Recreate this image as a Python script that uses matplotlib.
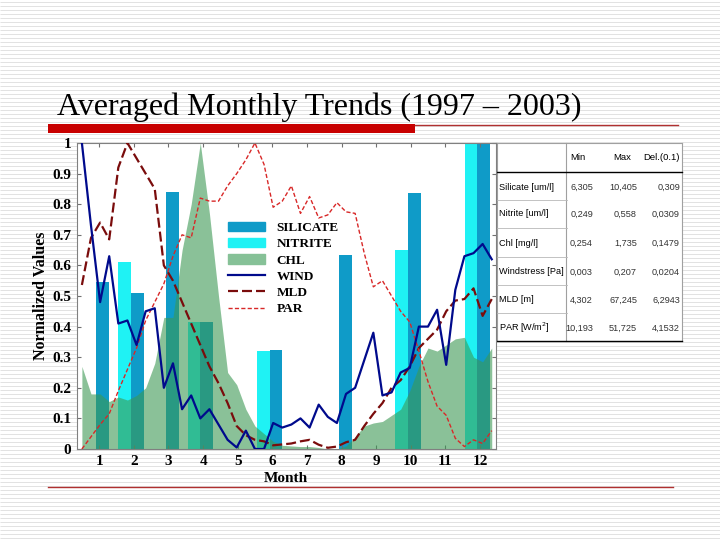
"""
Averaged Monthly Trends (1997 - 2003) - normalized values
"""

import numpy as np
import matplotlib
matplotlib.use('Agg')
import matplotlib.pyplot as plt
from matplotlib.patches import Patch, Rectangle
from matplotlib.lines import Line2D

# 1. data (8-day composites, day of year 1..361)
doy = np.arange(1, 366, 8)
month_pos = 0.5 + (doy - 1) * 12 / 365

wind = [1.00, 0.73, 0.48, 0.63, 0.41, 0.42, 0.34, 0.45, 0.46, 0.20,
        0.28, 0.13, 0.175, 0.10, 0.13, 0.08, 0.03, 0.005, 0.06, 0.0,
        0.0, 0.085, 0.07, 0.08, 0.10, 0.07, 0.145, 0.105, 0.085, 0.18,
        0.20, 0.29, 0.38, 0.175, 0.185, 0.25, 0.265, 0.40, 0.40, 0.455,
        0.275, 0.52, 0.63, 0.64, 0.67, 0.62]
mld = [0.536, 0.69, 0.74, 0.685, 0.92, 1.0, 0.95, 0.90, 0.85, 0.60,
       0.55, 0.48, 0.41, 0.34, 0.27, 0.215, 0.15, 0.075, 0.045, 0.03,
       0.025, 0.012, 0.015, 0.018, 0.025, 0.03, 0.014, 0.004, 0.008, 0.022,
       0.03, 0.075, 0.115, 0.15, 0.20, 0.225, 0.27, 0.33, 0.36, 0.39,
       0.45, 0.485, 0.49, 0.525, 0.435, 0.49]
par = [0.0, 0.04, 0.08, 0.115, 0.19, 0.26, 0.33, 0.42, 0.48, 0.54,
       0.63, 0.70, 0.69, 0.82, 0.81, 0.81, 0.86, 0.90, 0.945, 1.0,
       0.93, 0.79, 0.81, 0.86, 0.77, 0.825, 0.755, 0.765, 0.805, 0.775,
       0.77, 0.64, 0.53, 0.55, 0.50, 0.45, 0.415, 0.32, 0.22, 0.14,
       0.11, 0.035, 0.008, 0.03, 0.018, 0.06]
chl = [0.27, 0.18, 0.18, 0.155, 0.17, 0.16, 0.175, 0.20, 0.28, 0.43,
       0.43, 0.65, 0.80, 1.0, 0.77, 0.50, 0.25, 0.21, 0.13, 0.075,
       0.05, 0.025, 0.012, 0.01, 0.008, 0.008, 0.005, 0.0, 0.0, 0.01,
       0.04, 0.075, 0.085, 0.09, 0.11, 0.13, 0.19, 0.27, 0.33, 0.32,
       0.34, 0.36, 0.365, 0.30, 0.285, 0.33]

months = np.arange(1, 13)
silicate = [0.545, 0.51, 0.84, 0.415, np.nan, 0.325, np.nan, 0.635, np.nan, 0.835, np.nan, 1.0]
nitrite = [np.nan, 0.61, np.nan, 0.415, np.nan, 0.32, np.nan, np.nan, np.nan, 0.65, np.nan, 1.0]

y_ticks = [0, 0.1, 0.2, 0.3, 0.4, 0.5, 0.6, 0.7, 0.8, 0.9, 1]
y_labels = ['0', '0.1', '0.2', '0.3', '0.4', '0.5', '0.6', '0.7', '0.8', '0.9', '1']

tab_cols = ['Min', 'Max', 'Del.(0.1)']
tab_rows = ['Silicate [um/l]', 'Nitrite [um/l]', 'Chl [mg/l]', 'Windstress [Pa]', 'MLD [m]', 'PAR [W/m$^2$]']
tab_vals = [['6,305', '10,405', '0,309'],
            ['0,249', '0,558', '0,0309'],
            ['0,254', '1,735', '0,1479'],
            ['0,003', '0,207', '0,0204'],
            ['4,302', '67,245', '6,2943'],
            ['10,193', '51,725', '4,1532']]

serif = 'Liberation Serif'
sans = 'Liberation Sans'

# 2. slide background (pixel coordinates)
fig = plt.figure(figsize=(7.2, 5.4), dpi=100)
bg = fig.add_axes([0, 0, 1, 1], zorder=0)
bg.set_xlim(0, 720)
bg.set_ylim(540, 0)
bg.axis('off')
bg.hlines(np.arange(1.5, 540, 4), 0, 720, colors='#dddddd', lw=0.6, zorder=1)

bg.text(57, 115, 'Averaged Monthly Trends (1997 \u2013 2003)', fontsize=23,
        family=serif, va='baseline', ha='left', color='black', zorder=3)
bg.add_patch(Rectangle((48, 124), 367, 9, facecolor='#c80000', edgecolor='none', zorder=3))
bg.plot([415, 678], [125, 125], color='#b03030', lw=1, zorder=3)
bg.plot([48, 673], [487, 487], color='#b03030', lw=1, zorder=3)

# 3. table on the right
bg.add_patch(Rectangle((497, 143), 185, 198, facecolor='white', edgecolor='none', zorder=2))
for x0, x1, y0, y1 in [(497, 497, 143, 341), (682, 682, 143, 341), (497, 682, 143, 143), (566, 566, 143, 341)]:
    bg.plot([x0, x1], [y0, y1], color='#a0a0a0', lw=0.8, zorder=3)
for yy in [200, 228, 257, 285, 313]:
    bg.plot([497, 567], [yy, yy], color='#b8b8b8', lw=0.6, zorder=3)
bg.plot([497, 682], [172, 172], color='black', lw=1.0, zorder=3)
bg.plot([497, 682], [341, 341], color='black', lw=1.0, zorder=3)

for cx, name in zip([578, 622, 661], tab_cols):
    bg.text(cx, 157, name, fontsize=6.8, family=sans, ha='center', va='center', zorder=4)
row_y = [187, 214, 243, 272, 300, 328]
for ry, name, vals in zip(row_y, tab_rows, tab_vals):
    bg.text(499, ry, name, fontsize=6.6, family=sans, ha='left', va='center', zorder=4)
    for rx, v in zip([593, 637, 680], vals):
        bg.text(rx, ry, v, fontsize=6.6, family=sans, ha='right', va='center', color='#333333', zorder=4)

# 4. chart
ax = fig.add_axes([76.7 / 720, 1 - 449 / 540, 419 / 720, 306 / 540], zorder=1)
ax.set_facecolor('white')

ax.bar(months - 0.08, silicate, width=0.37, align='edge', color='#0f9bc8', zorder=1)
ax.bar(months - 0.08, nitrite, width=-0.37, align='edge', color='#1ff2f4', zorder=1)
ax.fill_between(month_pos, 0, chl, color='#3c9954', alpha=0.6, lw=0, zorder=2)
ax.plot(month_pos, wind, color='#000a8c', lw=1.6, zorder=4)
ax.plot(month_pos, mld, color='#7a0c0c', lw=1.6, linestyle=(0, (4.5, 1.8)), zorder=3)
ax.plot(month_pos, par, color='#d82828', lw=1.0, linestyle=(0, (3, 1.6)), zorder=3)

ax.set_xlim(0.35, 12.45)
ax.set_ylim(0, 1)
ax.set_xticks(months)
ax.set_xticklabels([str(m) for m in months])
ax.set_yticks(y_ticks)
ax.set_yticklabels(y_labels)
ax.tick_params(direction='in', length=3, top=True, right=True, pad=4,
               labelsize=11, colors='#707070', labelcolor='black')
for lab in ax.get_xticklabels() + ax.get_yticklabels():
    lab.set_family(serif)
    lab.set_fontweight('bold')
for s in ax.spines.values():
    s.set_color('#808080')
    s.set_linewidth(0.8)

ax.set_xlabel('Month', fontsize=11, family=serif, fontweight='bold', labelpad=3)
ax.set_ylabel('Normalized Values', fontsize=11.5, family=serif, fontweight='bold', labelpad=2)

handles = [Patch(color='#0f9bc8'), Patch(color='#1ff2f4'), Patch(color='#86c197'),
           Line2D([], [], color='#000a8c', lw=1.6),
           Line2D([], [], color='#7a0c0c', lw=1.6, linestyle=(0, (4.5, 1.8))),
           Line2D([], [], color='#d82828', lw=1.0, linestyle=(0, (3, 1.6)))]
ax.legend(handles, ['SILICATE', 'NITRITE', 'CHL', 'WIND', 'MLD', 'PAR'],
          loc='upper left', bbox_to_anchor=(0.361, 0.742), frameon=False,
          prop={'family': serif, 'weight': 'bold', 'size': 9.5},
          handlelength=2.8, handletextpad=0.9, labelspacing=0.3,
          borderpad=0, borderaxespad=0)

fig.savefig('out.png', dpi=100, facecolor='white')
